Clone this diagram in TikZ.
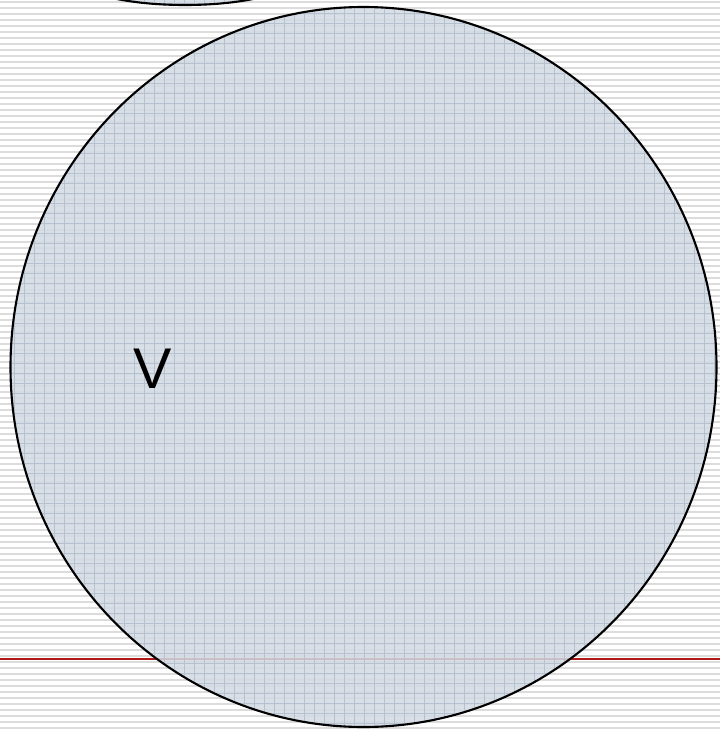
\documentclass[tikz,border=0pt]{standalone}
\usepackage{fontspec}
\setsansfont{Liberation Sans}
\definecolor{SetFill}{RGB}{211,218,227}
\definecolor{SetGrid}{RGB}{182,193,207}
\definecolor{Stripe}{RGB}{220,220,220}
\definecolor{MarkRed}{RGB}{176,24,24}
\usetikzlibrary{positioning}

\begin{document}
\begin{tikzpicture}[
    x=0.03cm, y=-0.03cm,
    every node/.style={font=\sffamily\fontsize{49}{49}\selectfont},
    stripe/.style={Stripe,line width=1.1pt},
    setfill/.style={fill=SetFill,fill opacity=0.85},
    setgrid/.style={SetGrid,line width=0.55pt},
    setborder/.style={draw=black,line width=1.8pt}
  ]
    \useasboundingbox (0,0) rectangle (720,731);
    \fill[white] (0,0) rectangle (720,731);
    % ruled background
    \foreach \y in {2,8,...,731}
      \draw[stripe] (0,\y) -- (720,\y);
    \coordinate (markL) at (0,659);
    \coordinate (markR) at (720,659);
    \draw[MarkRed,line width=0.9pt] (markL) -- (markR);

    % the two sets
    \coordinate (Uc) at (185,-23);
    \coordinate (Vc) at (363.5,367);
    \fill[setfill] (Uc) ellipse [x radius=110, y radius=28];
    \fill[setfill] (Vc) ellipse [x radius=353, y radius=360];
    \begin{scope}
      \clip (Uc) ellipse [x radius=110, y radius=28] (Vc) ellipse [x radius=353, y radius=360];
      \foreach \x in {4,14,...,720}
        \draw[setgrid] (\x,0) -- (\x,731);
      \foreach \y in {3,13,...,731}
        \draw[setgrid] (0,\y) -- (720,\y);
    \end{scope}
    \draw[setborder] (Uc) ellipse [x radius=110, y radius=28];
    \draw[setborder] (Vc) ellipse [x radius=353, y radius=360];

    \node (Vlabel) at (153,369) {V};
  \end{tikzpicture}
\end{document}
